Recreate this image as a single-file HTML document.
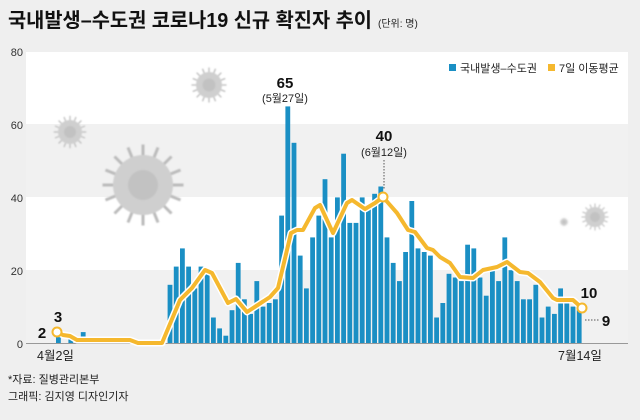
<!DOCTYPE html>
<html><head><meta charset="utf-8"><style>
body{margin:0;background:#efefef;}
svg text{font-family:"Liberation Sans","Noto Sans CJK KR",sans-serif;}
</style></head><body>
<svg width="640" height="415" viewBox="0 0 640 415" xmlns="http://www.w3.org/2000/svg">
<rect width="640" height="415" fill="#efefef"/>
<rect x="26" y="52" width="602" height="72" fill="#fff"/>
<rect x="26" y="124" width="602" height="73" fill="#f1f1f1"/>
<rect x="26" y="197" width="602" height="73" fill="#fff"/>
<rect x="26" y="270" width="602" height="73" fill="#f1f1f1"/>
<g fill="#333" font-size="11" text-anchor="end">
<text x="23" y="56">80</text><text x="23" y="129">60</text><text x="23" y="202">40</text><text x="23" y="275">20</text><text x="23" y="348">0</text>
</g>
<defs><filter id="bl"><feGaussianBlur stdDeviation="0.8"/></filter>
<g id="v"><g stroke="#bbb" stroke-width="0.1"><line x1="0" y1="-1.35" x2="0" y2="1.35"/><line x1="-1.35" y1="0" x2="1.35" y2="0"/><line x1="-0.95" y1="-0.95" x2="0.95" y2="0.95"/><line x1="-0.95" y1="0.95" x2="0.95" y2="-0.95"/><line x1="-0.5" y1="-1.25" x2="0.5" y2="1.25"/><line x1="-1.25" y1="-0.5" x2="1.25" y2="0.5"/><line x1="0.5" y1="-1.25" x2="-0.5" y2="1.25"/><line x1="-1.25" y1="0.5" x2="1.25" y2="-0.5"/></g><circle r="1" fill="#cfcfcf"/><circle r="0.5" fill="#c2c2c2"/></g></defs>
<g filter="url(#bl)">
<use href="#v" transform="translate(143,185) scale(30)"/>
<use href="#v" transform="translate(70,132) scale(12)"/>
<use href="#v" transform="translate(209,85) scale(13)"/>
<use href="#v" transform="translate(595,217) scale(10)"/>
<use href="#v" transform="translate(564,222) scale(3.5)"/>
</g>
<g fill="#1a8fc4" id="bars"></g>
<line x1="26" y1="343.5" x2="628" y2="343.5" stroke="#999" stroke-width="1"/>
<polyline id="ln" fill="none" stroke-linejoin="round" points="57,332 63,335 70,336 77,340 130,340 138,343 162,343 180,300 192,288 205,270 212,273 228,303 236,299 247,312 270,297 278,288 291,233 297,230 303,230 315,208 320,205 333,233 347,203 352,200 365,209 375,203 383,197 397,213 408,230 415,232 427,248 433,250 440,257 450,263 460,277 473,278 483,270 497,267 507,262 520,272 528,273 540,282 553,298 557,300 573,300 582,308"/>
<circle cx="57" cy="332" r="4.5" fill="#fff" stroke="#f5b82e" stroke-width="2"/>
<circle cx="383" cy="197" r="4.5" fill="#fff" stroke="#f5b82e" stroke-width="2"/>
<circle cx="582" cy="308" r="4.5" fill="#fff" stroke="#f5b82e" stroke-width="2"/>
<line x1="384" y1="160" x2="384" y2="190" stroke="#555" stroke-dasharray="1.5,1.5"/>
<line x1="585" y1="320" x2="600" y2="320" stroke="#555" stroke-dasharray="1.5,1.5"/>
<g fill="#111" font-weight="bold" font-size="15" text-anchor="middle">
<text x="285" y="88">65</text><text x="384" y="141">40</text>
<text x="58" y="322">3</text><text x="42" y="338">2</text>
<text x="589" y="298">10</text><text x="606" y="326">9</text>
</g>
<g fill="#222" font-size="11" text-anchor="middle">
<text x="285" y="102">(5월27일)</text><text x="384" y="156">(6월12일)</text>
</g>
<g fill="#222" font-size="12.5">
<text x="37" y="360">4월2일</text><text x="558" y="360">7월14일</text>
</g>
<rect x="449" y="64" width="7" height="7" fill="#1a8fc4"/>
<text x="460" y="72" font-size="11" fill="#222">국내발생–수도권</text>
<rect x="548" y="64" width="7" height="7" fill="#f5b82e"/>
<text x="559" y="72" font-size="11" fill="#222">7일 이동평균</text>
<text x="8" y="27" font-size="20" font-weight="bold" fill="#111" textLength="364" lengthAdjust="spacingAndGlyphs">국내발생–수도권 코로나19 신규 확진자 추이</text>
<text x="378" y="27" font-size="10" fill="#222">(단위: 명)</text>
<text x="8" y="383" font-size="11" fill="#222">*자료: 질병관리본부</text>
<text x="8" y="400" font-size="11" fill="#222">그래픽: 김지영 디자인기자</text>
</svg>
<script>
var vals={0:2,2:1,4:3};
var L=[16,21,26,21,15,21,19,7,4,2,9,22,12,8,17,10,11,12,35,65,55,24,15,29,35];
var R=[45,29,40,52,33,33,40,38,41,43,29,22,17,25,39,26,25,24,7,11,19,18,17,27,26,18,13,20,17,29,20,17,12,12,16,7,10,8,15,11,10,9];
L.forEach(function(v,k){vals[18+k]=v;});R.forEach(function(v,k){vals[43+k]=v;});
var g=document.getElementById('bars'),s='';
for(var i in vals){var x=56+6.2*i,h=vals[i]*3.64;s+='<rect x="'+x.toFixed(1)+'" y="'+(343-h).toFixed(1)+'" width="4.8" height="'+h.toFixed(1)+'"/>';}
g.innerHTML=s;
var ln=document.getElementById('ln');
var w=ln.cloneNode();w.setAttribute('stroke','#fff');w.setAttribute('stroke-width','7');
ln.parentNode.insertBefore(w,ln);
ln.setAttribute('stroke','#f5b82e');ln.setAttribute('stroke-width','4');
</script>
</body></html>
